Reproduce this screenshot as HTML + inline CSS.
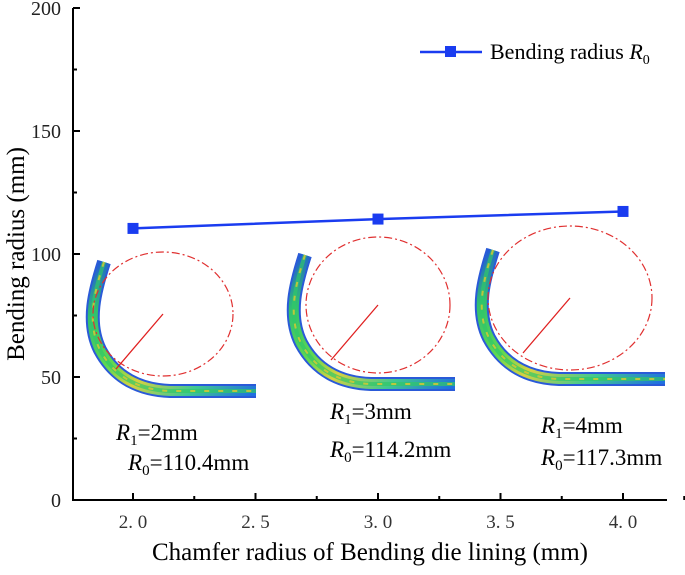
<!DOCTYPE html>
<html><head><meta charset="utf-8">
<style>
html,body{margin:0;padding:0;background:#fff}
svg text{font-family:"Liberation Serif",serif}
</style></head>
<body>
<svg id="chart" width="685" height="570" viewBox="0 0 685 570" xmlns="http://www.w3.org/2000/svg">
<defs>
<linearGradient id="pipeGrad" x1="0" y1="0" x2="1" y2="1">
<stop offset="0" stop-color="#2050e0"/>
<stop offset="0.2" stop-color="#30c070"/>
<stop offset="0.45" stop-color="#60d850"/>
<stop offset="0.6" stop-color="#d8d040"/>
<stop offset="0.8" stop-color="#40c890"/>
<stop offset="1" stop-color="#2070e0"/>
</linearGradient>
</defs>
<g id="pipes"></g>
<g id="axes"></g>
<g id="series"></g>
<g>
<line x1="420" y1="52" x2="482" y2="52" stroke="#1a3cf0" stroke-width="2.5"/>
<rect x="445" y="46" width="11" height="11" fill="#1a3cf0"/>
<text x="490" y="59" font-size="22">Bending radius <tspan font-style="italic">R</tspan><tspan font-size="14" dy="5">0</tspan></text>
</g>
<g>
<text x="116" y="440" font-size="23"><tspan font-style="italic">R</tspan><tspan font-size="15" dy="5">1</tspan><tspan dy="-5">=2mm</tspan></text>
<text x="128" y="470" font-size="23"><tspan font-style="italic">R</tspan><tspan font-size="15" dy="5">0</tspan><tspan dy="-5">=110.4mm</tspan></text>
<text x="330" y="419" font-size="23"><tspan font-style="italic">R</tspan><tspan font-size="15" dy="5">1</tspan><tspan dy="-5">=3mm</tspan></text>
<text x="330" y="457" font-size="23"><tspan font-style="italic">R</tspan><tspan font-size="15" dy="5">0</tspan><tspan dy="-5">=114.2mm</tspan></text>
<text x="541" y="433" font-size="23"><tspan font-style="italic">R</tspan><tspan font-size="15" dy="5">1</tspan><tspan dy="-5">=4mm</tspan></text>
<text x="541" y="465" font-size="23"><tspan font-style="italic">R</tspan><tspan font-size="15" dy="5">0</tspan><tspan dy="-5">=117.3mm</tspan></text>
</g>
<text x="370" y="560" font-size="25" text-anchor="middle">Chamfer radius of Bending die lining  (mm)</text>
<text transform="translate(24,254) rotate(-90)" font-size="25" text-anchor="middle">Bending radius  (mm)</text>
</svg>
<script>
const categories = [2.0, 3.0, 4.0];
const radiusValues = [110.4, 114.2, 117.3];
const xTicks = ["2.0", "2.5", "3.0", "3.5", "4.0"];
const yTicks = ["0", "50", "100", "150", "200"];

const NS = "http://www.w3.org/2000/svg";
const L = 73, R = 667, T = 8, B = 500;
function xs(v){ return 133 + (v - 2.0) * 245; }
function ys(v){ return B - v * (B - T) / 200; }
function mk(tag, attrs, parent){ const e = document.createElementNS(NS, tag); for (const k in attrs) e.setAttribute(k, attrs[k]); parent.appendChild(e); return e; }

const axes = document.getElementById('axes');
const ax = mk('path', {d:`M${L},${T} L${L},${B} L${R},${B}`, fill:'none', stroke:'#000', 'stroke-width':2}, axes);


yTicks.forEach((t) => {
  const v = parseFloat(t), y = ys(v);
  const tk = mk('line', {x1:L, x2:L+7, y1:y, y2:y, stroke:'#000', 'stroke-width':2}, axes);
  
  
  if (v < 200) { const m = mk('line', {x1:L, x2:L+4, y1:ys(v+25), y2:ys(v+25), stroke:'#000', 'stroke-width':2}, axes);
    
     }
  const tx = mk('text', {x:L-12, y:y+7, 'font-size':20, 'text-anchor':'end', fill:'#222'}, axes);
  tx.textContent = t;
  
  
});
xTicks.forEach((t) => {
  const v = parseFloat(t), x = xs(v);
  const tk = mk('line', {x1:x, x2:x, y1:B, y2:B-7, stroke:'#000', 'stroke-width':2}, axes);
  
  
  const m = mk('line', {x1:xs(v+0.25), x2:xs(v+0.25), y1:B, y2:B-4, stroke:'#000', 'stroke-width':2}, axes);
  
  
  const tx = mk('text', {x:x, y:B+28, 'font-size':19, 'text-anchor':'middle', fill:'#333'}, axes);
  tx.textContent = t.replace('.', '. ');
  
  
});

// simulation pipe images
const pipes = document.getElementById('pipes');
const pipeDefs = [
  {dx:0, dy:0, cx:163, cy:314, rx:70, ry:62, end:256},
  {dx:201, dy:-7, cx:378, cy:305, rx:72, ry:68, end:455},
  {dx:389, dy:-12, cx:570, cy:298, rx:82, ry:72, end:665}
];
pipeDefs.forEach((p) => {
  const g = mk('g', {transform:`translate(${p.dx},${p.dy})`}, pipes);
  
  
  const d = `M104,262 C95,290 86,322 100,350 C115,378 140,390 170,391 L${p.end - p.dx},391`;
  mk('path', {d:d, fill:'none', stroke:'#2a5ad8', 'stroke-width':14}, g);
  mk('path', {d:d, fill:'none', stroke:'url(#pipeGrad)', 'stroke-width':10}, g);
  mk('path', {d:d, fill:'none', stroke:'#30c868', 'stroke-width':4, opacity:0.7}, g);
  mk('path', {d:d, fill:'none', stroke:'#e0c830', 'stroke-width':2, 'stroke-dasharray':'5 9', opacity:0.8}, g);
  const c = mk('ellipse', {cx:p.cx, cy:p.cy, rx:p.rx, ry:p.ry, fill:'none', stroke:'#e03030', 'stroke-width':1.2, 'stroke-dasharray':'8 3 2 3'}, pipes);
  
  
  const ln = mk('line', {x1:p.cx, y1:p.cy, x2:p.cx-47, y2:p.cy+55, stroke:'#e02020', 'stroke-width':1.3}, pipes);
  
  
});

// series
const series = document.getElementById('series');
const pts = categories.map((c, i) => `${xs(c)},${ys(radiusValues[i])}`).join(' ');
const pl = mk('polyline', {points:pts, fill:'none', stroke:'#1a3cf0', 'stroke-width':2.5}, series);


categories.forEach((c, i) => {
  const r = mk('rect', {x:xs(c)-5.5, y:ys(radiusValues[i])-5.5, width:11, height:11, fill:'#1a3cf0'}, series);
  
  
});
</script>
</body></html>
